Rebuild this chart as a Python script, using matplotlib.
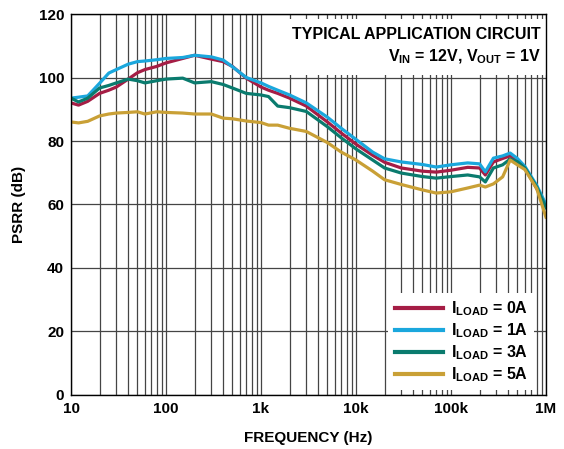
import matplotlib
matplotlib.use("Agg")
import matplotlib.pyplot as plt
from matplotlib.ticker import FixedLocator, FixedFormatter, LogLocator, NullFormatter

plt.rcParams['font.family'] = ['Liberation Sans', 'DejaVu Sans']
plt.rcParams['font.weight'] = 'bold'
plt.rcParams['mathtext.fontset'] = 'custom'
plt.rcParams['mathtext.rm'] = 'Liberation Sans:bold'
plt.rcParams['mathtext.bf'] = 'Liberation Sans:bold'
plt.rcParams['mathtext.it'] = 'Liberation Sans:bold'

freq = [10, 12, 15, 20, 25, 30, 40, 50, 60, 80, 100, 150, 200, 300, 400, 500, 700,
        1e3, 1.2e3, 1.5e3, 2e3, 3e3, 5e3, 7e3, 1e4, 1.5e4, 2e4, 3e4, 5e4, 7e4, 1e5,
        1.5e5, 2e5, 2.3e5, 2.8e5, 3.5e5, 4.2e5, 5e5, 6e5, 8e5, 1e6]

psrr_0a = [92, 91.3, 92.5, 95, 96, 97, 99.5, 101.5, 102.5, 103.5, 104.6, 106, 107, 105.8,
           105, 103.5, 99.8, 97, 96, 95, 93.5, 91, 86, 82.5, 79, 75.5, 73.3, 71.5, 70.5,
           70.2, 70.8, 71.7, 71.5, 69.3, 73.4, 74.5, 75.3, 74, 71.5, 65, 59.5]
psrr_1a = [93.5, 93.8, 94.2, 98.2, 101.4, 102.5, 104.2, 105, 105.2, 105.6, 106, 106.3, 107,
           106.5, 105.5, 103.4, 100, 98.3, 97.2, 96, 94.5, 92, 87.5, 84, 80.5, 76.5, 74.4,
           73.4, 72.6, 71.8, 72.5, 73.1, 72.8, 70.3, 74.6, 75.3, 76.2, 74.5, 72, 66, 60]
psrr_3a = [93.5, 92.3, 93.5, 96.7, 97.5, 98.3, 99.5, 99, 98.3, 99, 99.5, 99.8, 98.3, 98.7,
           97.8, 96.7, 95, 94.5, 94, 91, 90.5, 89.3, 84.5, 81, 77.5, 74, 71.5, 69.9, 68.8,
           68.3, 68.8, 69.3, 68.7, 67.1, 71.5, 72.5, 74.3, 73.5, 71.5, 65.5, 59]
psrr_5a = [86, 85.7, 86.2, 87.9, 88.5, 88.8, 89, 89.2, 88.5, 89.2, 89, 88.8, 88.5, 88.5,
           87.2, 87, 86.3, 85.8, 85, 85, 84, 83, 79.5, 76.5, 74, 70.5, 67.8, 66.3, 64.6,
           63.6, 64, 65.2, 66.1, 65.5, 66.5, 68.7, 74, 72.5, 71, 65, 56]

series_labels = [r'$\mathregular{I_{LOAD}}$ = 0A', r'$\mathregular{I_{LOAD}}$ = 1A',
                 r'$\mathregular{I_{LOAD}}$ = 3A', r'$\mathregular{I_{LOAD}}$ = 5A']
colors = ['#A51D45', '#1AA7DD', '#0A7B6E', '#C9A036']

xtick_vals = [10, 100, 1e3, 1e4, 1e5, 1e6]
xtick_labels = ['10', '100', '1k', '10k', '100k', '1M']
ytick_vals = [0, 20, 40, 60, 80, 100, 120]

fig = plt.figure(figsize=(5.64, 4.49), dpi=100)
ax = fig.add_axes([0.1259, 0.1203, 0.968 - 0.1259, 0.9688 - 0.1203])

lines = []
for vals, c, lab in zip([psrr_0a, psrr_1a, psrr_3a, psrr_5a], colors, series_labels):
    ln, = ax.plot(freq, vals, color=c, lw=2.3, label=lab, zorder=3)
    lines.append(ln)

ax.set_xscale('log')
ax.set_xlim(10, 1e6)
ax.set_ylim(0, 120)
ax.xaxis.set_major_locator(FixedLocator(xtick_vals))
ax.xaxis.set_major_formatter(FixedFormatter(xtick_labels))
ax.xaxis.set_minor_locator(LogLocator(base=10, subs=range(2, 10)))
ax.xaxis.set_minor_formatter(NullFormatter())
ax.set_yticks(ytick_vals)
ax.grid(True, which='major', axis='both', color='#454545', lw=0.9, zorder=1)
ax.grid(True, which='minor', axis='x', color='#454545', lw=0.9, zorder=1)
ax.tick_params(which='both', length=0, labelsize=11, pad=5)
for lbl in ax.get_xticklabels() + ax.get_yticklabels():
    lbl.set_fontweight('bold')
for sp in ax.spines.values():
    sp.set_color('black')
    sp.set_linewidth(1.0)
    sp.set_zorder(5)

ax.set_xlabel('FREQUENCY (Hz)', fontsize=11, fontweight='bold', labelpad=11)
ax.set_ylabel('PSRR (dB)', fontsize=11, fontweight='bold', labelpad=9)

ax.text(0.988, 0.965, 'TYPICAL APPLICATION CIRCUIT\n'
        r'$\mathregular{V_{IN}}$ = 12V, $\mathregular{V_{OUT}}$ = 1V',
        transform=ax.transAxes, ha='right', va='top', fontsize=11.5, fontweight='bold',
        linespacing=1.35, zorder=4,
        bbox=dict(facecolor='white', edgecolor='none', pad=7))

leg = ax.legend(handles=lines, loc='lower right', frameon=True, fontsize=11.5,
                handlelength=3.0, handletextpad=0.5, labelspacing=0.2,
                borderaxespad=0.3, borderpad=0.4, fancybox=False,
                bbox_to_anchor=(0.985, 0.0))
leg.get_frame().set_edgecolor('none')
leg.get_frame().set_facecolor('white')
leg.get_frame().set_alpha(1)
leg.set_zorder(4)
for h in leg.get_lines():
    h.set_linewidth(3)

fig.savefig('out.png', dpi=100)
